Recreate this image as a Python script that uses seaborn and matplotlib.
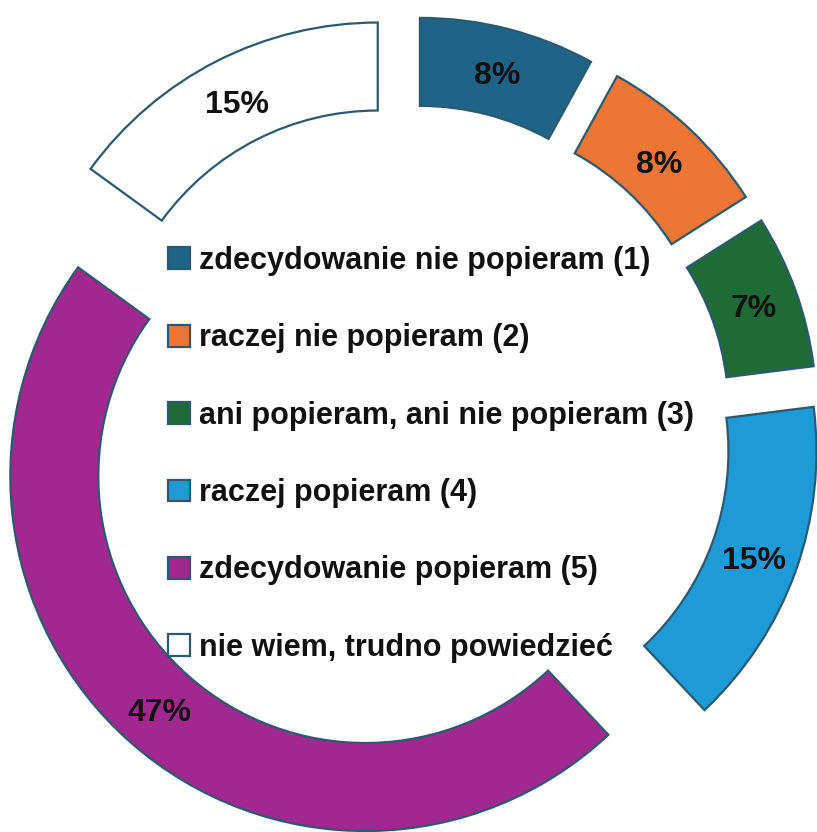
import matplotlib
matplotlib.use("Agg")
import matplotlib.pyplot as plt
import seaborn as sns

categories = [
    "zdecydowanie nie popieram (1)",
    "raczej nie popieram (2)",
    "ani popieram, ani nie popieram (3)",
    "raczej popieram (4)",
    "zdecydowanie popieram (5)",
    "nie wiem, trudno powiedzieć",
]
values = [8, 8, 7, 15, 47, 15]
colors = ["#1f6487", "#ee7635", "#1e6b36", "#1e9bd6", "#a1288f", "#ffffff"]

sns.set_theme(style="white")
plt.rcParams["font.family"] = ["Liberation Sans", "DejaVu Sans"]

W, H = 817, 832
fig = plt.figure(figsize=(W / 100, H / 100), dpi=100)
ax = fig.add_axes([0, 0, 1, 1])

R = 355
cx, cy = 405, 401
wedges, texts, autotexts = ax.pie(
    values,
    colors=colors,
    startangle=90,
    counterclock=False,
    radius=R,
    center=(cx, cy),
    explode=[60] * len(values),
    autopct=lambda p: f"{round(p)}%",
    pctdistance=0.875,
    wedgeprops=dict(width=88, edgecolor="#2b5a70", linewidth=1.6),
    textprops=dict(fontsize=23, fontweight="bold", color="#111111"),
)
for t in autotexts:
    x, y = t.get_position()
    t.set_position((x, y - 4))
ax.set_xlim(0, W)
ax.set_ylim(0, H)
ax.set_aspect("equal")
ax.axis("off")

leg = ax.legend(
    wedges,
    categories,
    loc="upper left",
    bbox_to_anchor=(168 / W, 1 - 246 / H),
    bbox_transform=fig.transFigure,
    frameon=False,
    borderpad=0,
    borderaxespad=0,
    handlelength=0.72,
    handleheight=0.72,
    handletextpad=0.3,
    labelspacing=1.55,
    prop=dict(size=22, weight="bold"),
)
for t in leg.get_texts():
    t.set_color("#111111")

fig.savefig("out.png", dpi=100, facecolor="white")
